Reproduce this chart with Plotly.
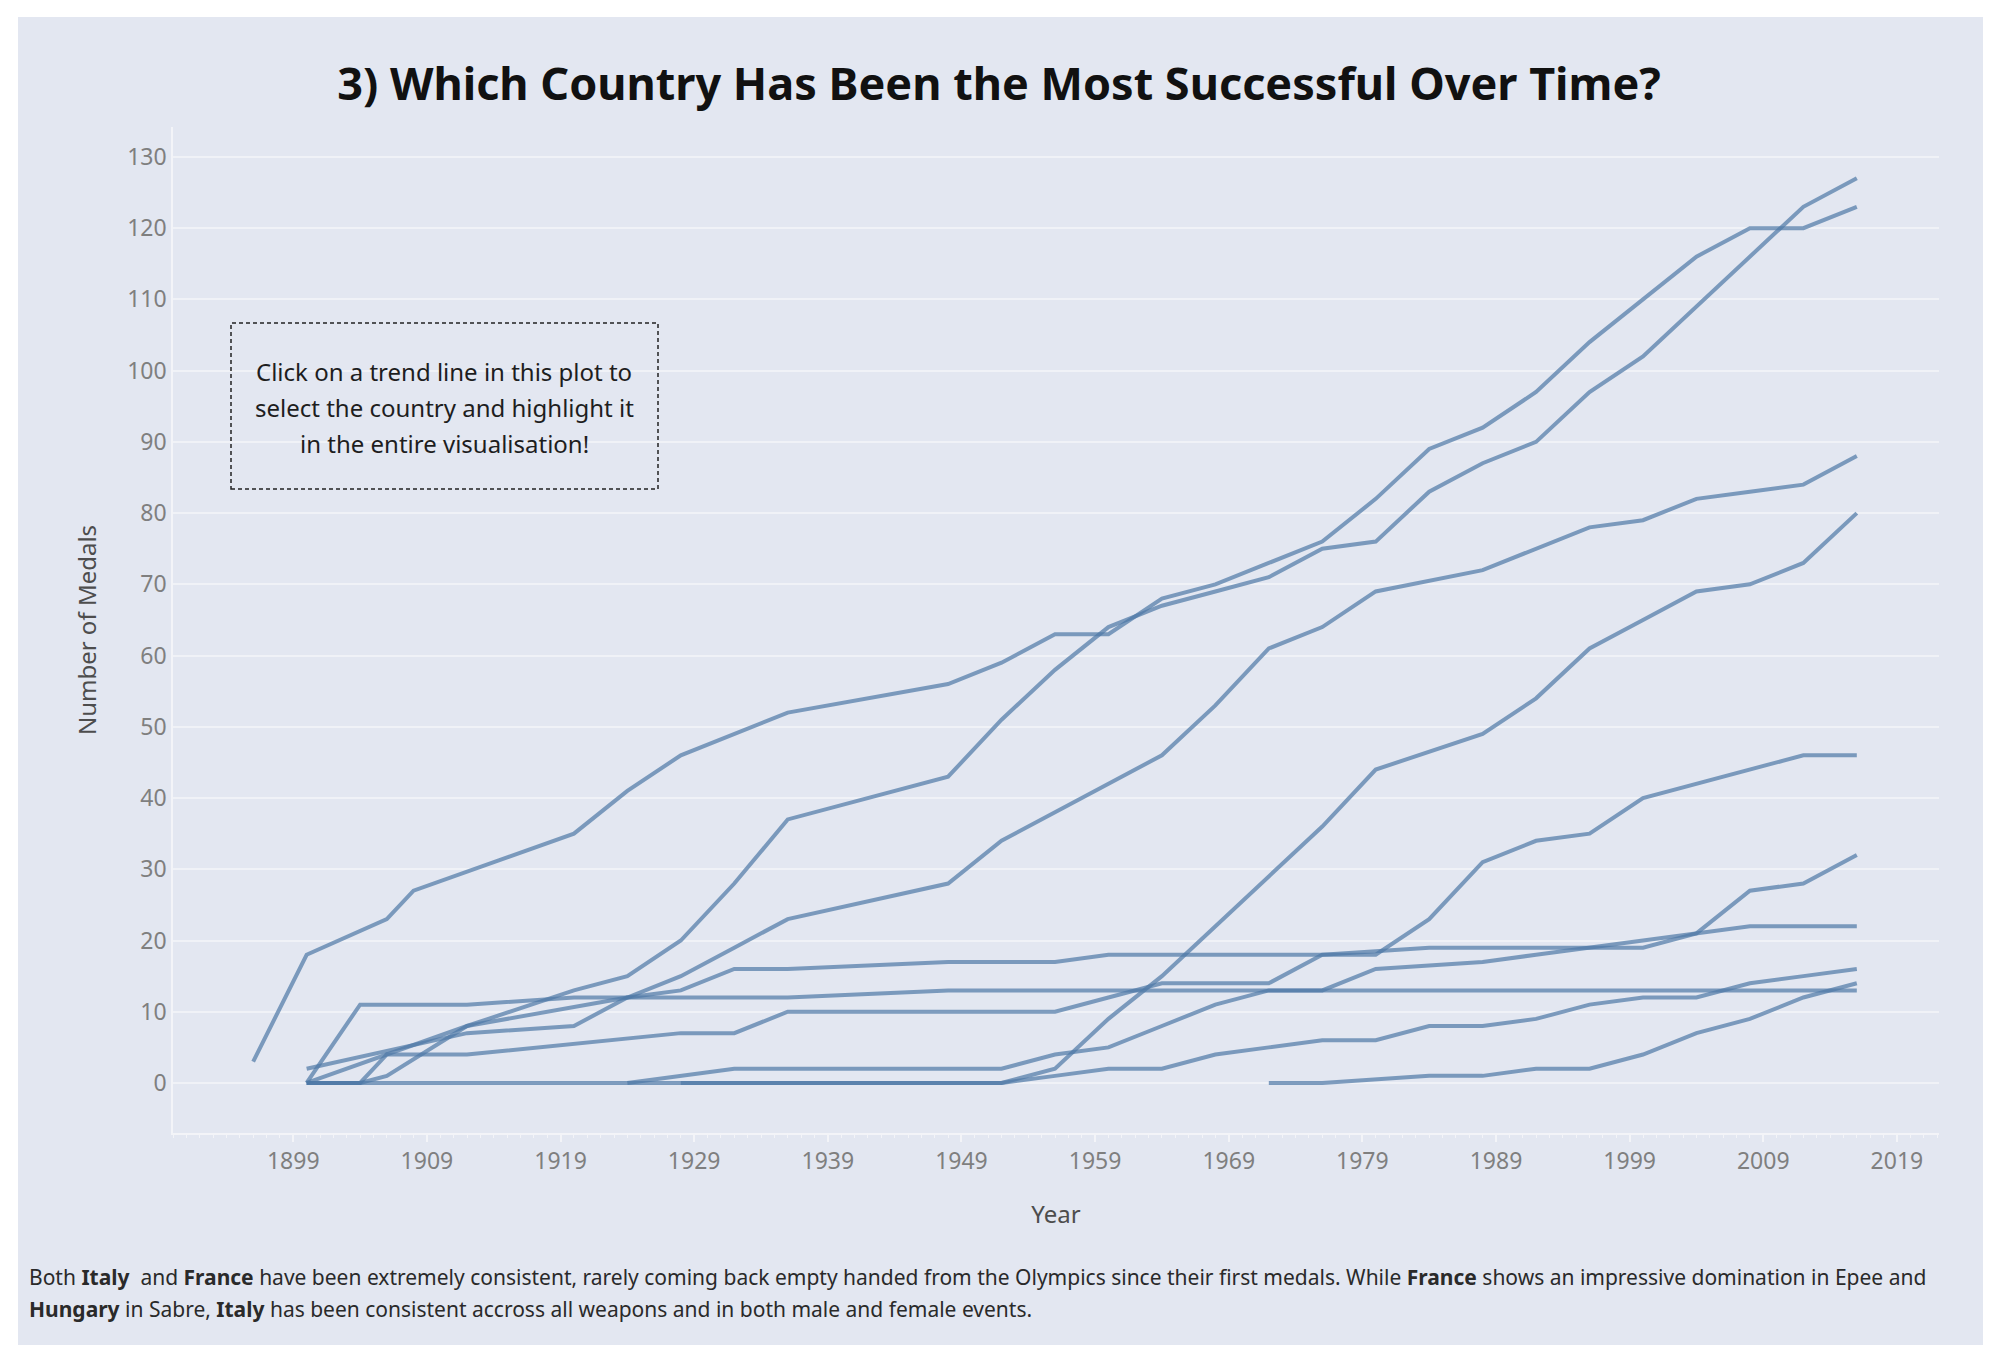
import plotly.graph_objects as go

# ---------------- data (cumulative fencing medals) ----------------
italy_years = [1900, 1912, 1920, 1924, 1928, 1932, 1936, 1948, 1952, 1956, 1960, 1964, 1968,
               1972, 1976, 1980, 1984, 1988, 1992, 1996, 2000, 2004, 2008, 2012, 2016]
italy_medals = [0, 8, 13, 15, 20, 28, 37, 43, 51, 58, 64, 67, 69,
                71, 75, 76, 83, 87, 90, 97, 102, 109, 116, 123, 127]

france_years = [1896, 1900, 1906, 1908, 1920, 1924, 1928, 1932, 1936, 1948, 1952, 1956, 1960, 1964,
                1968, 1972, 1976, 1980, 1984, 1988, 1992, 1996, 2000, 2004, 2008, 2012, 2016]
france_medals = [3, 18, 23, 27, 35, 41, 46, 49, 52, 56, 59, 63, 63, 68,
                 70, 73, 76, 82, 89, 92, 97, 104, 110, 116, 120, 120, 123]

hungary_years = [1900, 1904, 1906, 1912, 1924, 1928, 1932, 1936, 1948, 1952, 1956, 1960, 1964,
                 1968, 1972, 1976, 1980, 1988, 1992, 1996, 2000, 2004, 2008, 2012, 2016]
hungary_medals = [0, 0, 1, 8, 12, 15, 19, 23, 28, 34, 38, 42, 46,
                  53, 61, 64, 69, 72, 75, 78, 79, 82, 83, 84, 88]

russia_years = [1928, 1932, 1936, 1948, 1952, 1956, 1960, 1964, 1968, 1972, 1976, 1980,
                1988, 1992, 1996, 2000, 2004, 2008, 2012, 2016]
russia_medals = [0, 0, 0, 0, 0, 2, 9, 15, 22, 29, 36, 44,
                 49, 54, 61, 65, 69, 70, 73, 80]

germany_years = [1900, 1904, 1906, 1908, 1912, 1928, 1932, 1936, 1952, 1956, 1960, 1964, 1968,
                 1972, 1976, 1980, 1984, 1988, 1992, 1996, 2000, 2004, 2008, 2012, 2016]
germany_medals = [0, 0, 4, 4, 4, 7, 7, 10, 10, 10, 12, 14, 14,
                  14, 18, 18, 23, 31, 34, 35, 40, 42, 44, 46, 46]

usa_years = [1900, 1912, 1920, 1924, 1928, 1932, 1936, 1948, 1952, 1956, 1960, 1964,
             1968, 1972, 1976, 1984, 1988, 1992, 1996, 2000, 2004, 2008, 2012, 2016]
usa_medals = [2, 7, 8, 12, 13, 16, 16, 17, 17, 17, 18, 18,
              18, 18, 18, 19, 19, 19, 19, 19, 21, 27, 28, 32]

poland_years = [1924, 1928, 1932, 1936, 1948, 1952, 1956, 1960, 1964, 1968, 1972,
                1976, 1980, 1988, 1992, 1996, 2000, 2004, 2008, 2012, 2016]
poland_medals = [0, 1, 2, 2, 2, 2, 4, 5, 8, 11, 13,
                 13, 16, 17, 18, 19, 20, 21, 22, 22, 22]

romania_years = [1900, 1904, 1908, 1912, 1920, 1924, 1928, 1932, 1936, 1948, 1952, 1956, 1960, 1964,
                 1968, 1972, 1976, 1980, 1984, 1988, 1992, 1996, 2000, 2004, 2008, 2012, 2016]
romania_medals = [0, 0, 0, 0, 0, 0, 0, 0, 0, 0, 0, 1, 2, 2,
                  4, 5, 6, 6, 8, 8, 9, 11, 12, 12, 14, 15, 16]

china_years = [1972, 1976, 1984, 1988, 1992, 1996, 2000, 2004, 2008, 2012, 2016]
china_medals = [0, 0, 1, 1, 2, 2, 4, 7, 9, 12, 14]

cuba_years = [1900, 1904, 1908, 1912, 1920, 1924, 1928, 1932, 1936, 1948, 1952, 1956, 1960, 1964,
              1968, 1972, 1976, 1980, 1984, 1988, 1992, 1996, 2000, 2004, 2008, 2012, 2016]
cuba_medals = [0, 11, 11, 11, 12, 12, 12, 12, 12, 13, 13, 13, 13, 13,
               13, 13, 13, 13, 13, 13, 13, 13, 13, 13, 13, 13, 13]

series = [
    ("Italy", italy_years, italy_medals),
    ("France", france_years, france_medals),
    ("Hungary", hungary_years, hungary_medals),
    ("Russia", russia_years, russia_medals),
    ("Germany", germany_years, germany_medals),
    ("United States", usa_years, usa_medals),
    ("Poland", poland_years, poland_medals),
    ("Romania", romania_years, romania_medals),
    ("China", china_years, china_medals),
    ("Cuba", cuba_years, cuba_medals),
]

x_ticks = [1899, 1909, 1919, 1929, 1939, 1949, 1959, 1969, 1979, 1989, 1999, 2009, 2019]
y_ticks = [0, 10, 20, 30, 40, 50, 60, 70, 80, 90, 100, 110, 120, 130]

title_text = "3) Which Country Has Been the Most Successful Over Time?"
note_lines = ["Click on a trend line in this plot to",
              "select the country and highlight it",
              "in the entire visualisation!"]
caption_lines = [
    "Both <b>Italy</b>\u00a0 and <b>France</b> have been extremely consistent, rarely coming back empty handed "
    "from the Olympics since their first medals. While <b>France</b> shows an impressive domination in Epee and",
    "<b>Hungary</b> in Sabre, <b>Italy</b> has been consistent accross all weapons and in both male and female events.",
]

# ---------------- styling ----------------
OFF = 8                      # page body margin of the html page
W, H = 2000 - 2 * OFF, 1362 - 2 * OFF
L, R, T, B = 173 - OFF, 1939 - OFF, 127 - OFF, 1133 - OFF   # plot area pixel box (figure coords)
PANEL = "#e3e7f1"
LINE = "#4e79a7"
FONT = "Noto Sans"


def px(xp):
    """page pixel x -> paper coordinate"""
    return (xp - OFF - L) / (R - L)


def py(yp):
    """page pixel y -> paper coordinate"""
    return (B - (yp - OFF)) / (B - T)


fig = go.Figure()
for name, xs, ys in series:
    fig.add_trace(go.Scatter(
        x=xs, y=ys, mode="lines", name=name,
        line=dict(color=LINE, width=4),
        opacity=0.7,
        hovertemplate=name + "<br>Year: %{x}<br>Medals: %{y}<extra></extra>",
    ))

shapes = [
    dict(type="rect", xref="paper", yref="paper", x0=px(18), x1=px(1983), y0=py(1345), y1=py(17),
         fillcolor=PANEL, line=dict(width=0), layer="below"),
    dict(type="line", xref="paper", yref="y", x0=0, x1=1, y0=0, y1=0,
         line=dict(color="#c8cad0", width=1.5, dash="dot"), layer="below"),
    dict(type="rect", xref="paper", yref="paper", x0=px(231), x1=px(658), y0=py(489), y1=py(323),
         line=dict(color="#222222", width=1.5, dash="4px,3px"), fillcolor="rgba(0,0,0,0)"),
]

annotations = []
for i, t in enumerate(note_lines):
    annotations.append(dict(text=t, xref="paper", yref="paper", x=px(444), y=py(371 + 36 * i),
                            xanchor="center", yanchor="middle", showarrow=False,
                            font=dict(family=FONT, size=24, color="#1e1e1e")))
for i, t in enumerate(caption_lines):
    annotations.append(dict(text=t, xref="paper", yref="paper", x=px(27), y=py(1277 + 32 * i),
                            xanchor="left", yanchor="middle", showarrow=False, align="left",
                            font=dict(family=FONT, size=21, color="#2a2a2a")))

fig.update_layout(
    width=W, height=H, autosize=False,
    margin=dict(l=L, r=W - R, t=T, b=H - B, pad=0),
    paper_bgcolor="white",
    plot_bgcolor=PANEL,
    showlegend=False,
    font=dict(family=FONT),
    title=dict(text=title_text, x=(999 - OFF) / W, xref="container", xanchor="center",
               y=1 - (84 - OFF) / H, yref="container", yanchor="middle",
               font=dict(family=FONT, size=45, color="#111111", weight=700)),
    shapes=shapes,
    annotations=annotations,
    xaxis=dict(
        range=[1890.0, 2022.15], tickvals=x_ticks, showgrid=False, zeroline=False,
        showline=True, linecolor="#f3f4f8", linewidth=1.5,
        ticks="outside", ticklen=7, tickwidth=1.5, tickcolor="#f3f4f8",
        minor=dict(dtick=1, tick0=1890, ticks="outside", ticklen=3, tickwidth=1, tickcolor="#f3f4f8",
                   showgrid=False),
        tickfont=dict(family=FONT, size=23, color="#7f7f7f"),
        title=dict(text="Year", font=dict(family=FONT, size=24, color="#4d4d4d"), standoff=31),
    ),
    yaxis=dict(
        range=[-7.02, 134.2], tickvals=y_ticks, showgrid=True, gridcolor="#f0f2f7", gridwidth=1.5,
        zeroline=False, showline=True, linecolor="#f3f4f8", linewidth=1.5, ticks="",
        tickfont=dict(family=FONT, size=23, color="#7f7f7f"),
        title=dict(text="Number of Medals", font=dict(family=FONT, size=24, color="#4d4d4d"), standoff=24),
    ),
)

fig.write_html("out.html")
